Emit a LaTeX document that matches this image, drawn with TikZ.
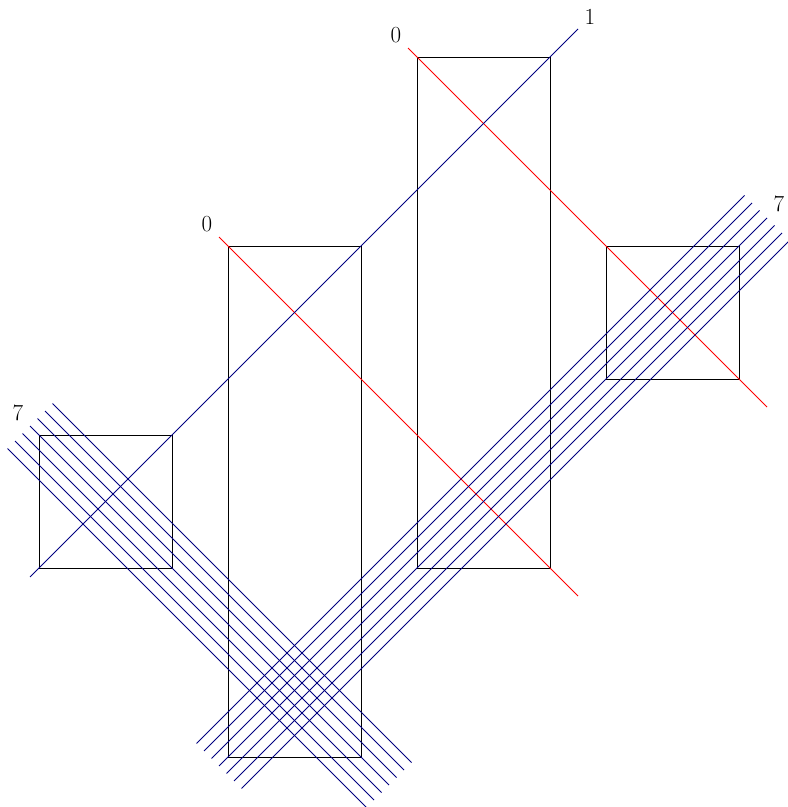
\documentclass[tikz,border=0pt]{standalone}
\usetikzlibrary{calc}
\definecolor{wire}{RGB}{0,0,128}
\begin{document}
\begin{tikzpicture}[x=1pt,y=-1pt,
  box/.style={draw=black,line width=1pt,inner sep=0pt,outer sep=0pt,minimum width=133pt},
  redwire/.style={draw=red,line width=1pt,shorten <=-12.7pt,shorten >=-39.6pt},
  bluewire/.style={draw=wire,line width=1pt,shorten <=-12.7pt,shorten >=-39.6pt},
  lbl/.style={font=\fontsize{23}{27}\selectfont,inner sep=0pt}]
\useasboundingbox (0,0) rectangle (788,807);
\node[box,minimum height=133pt] (sqL) at (105.5,501.5) {};
\node[box,minimum height=511pt] (rA) at (294.5,501.5) {};
\node[box,minimum height=511pt] (rB) at (483.5,312.5) {};
\node[box,minimum height=133pt] (sqR) at (672.5,312.5) {};
\draw[redwire] (rA.north west) -- (rB.south east);
\draw[redwire] (rB.north west) -- (sqR.south east);
\draw[bluewire] (sqL.south west) -- (rB.north east);
\foreach \i in {-3,...,3} {
  \draw[bluewire] ($(sqL.north west)+(7.5*\i,-7.5*\i)$) -- ($(rA.south east)+(7.5*\i,-7.5*\i)$);
  \draw[bluewire] ($(rA.south west)+(7.5*\i,7.5*\i)$) -- ($(sqR.north east)+(7.5*\i,7.5*\i)$);
}
\node[lbl] (l0a) at ($(rA.north west)+(-21,-22)$) {0};
\node[lbl] (l0b) at ($(rB.north west)+(-21,-22)$) {0};
\node[lbl] (l1) at ($(rB.north east)+(40,-40)$) {1};
\node[lbl] (l7a) at ($(sqL.north west)+(-21,-22)$) {7};
\node[lbl] (l7b) at ($(sqR.north east)+(40,-42)$) {7};
\end{tikzpicture}
\end{document}
